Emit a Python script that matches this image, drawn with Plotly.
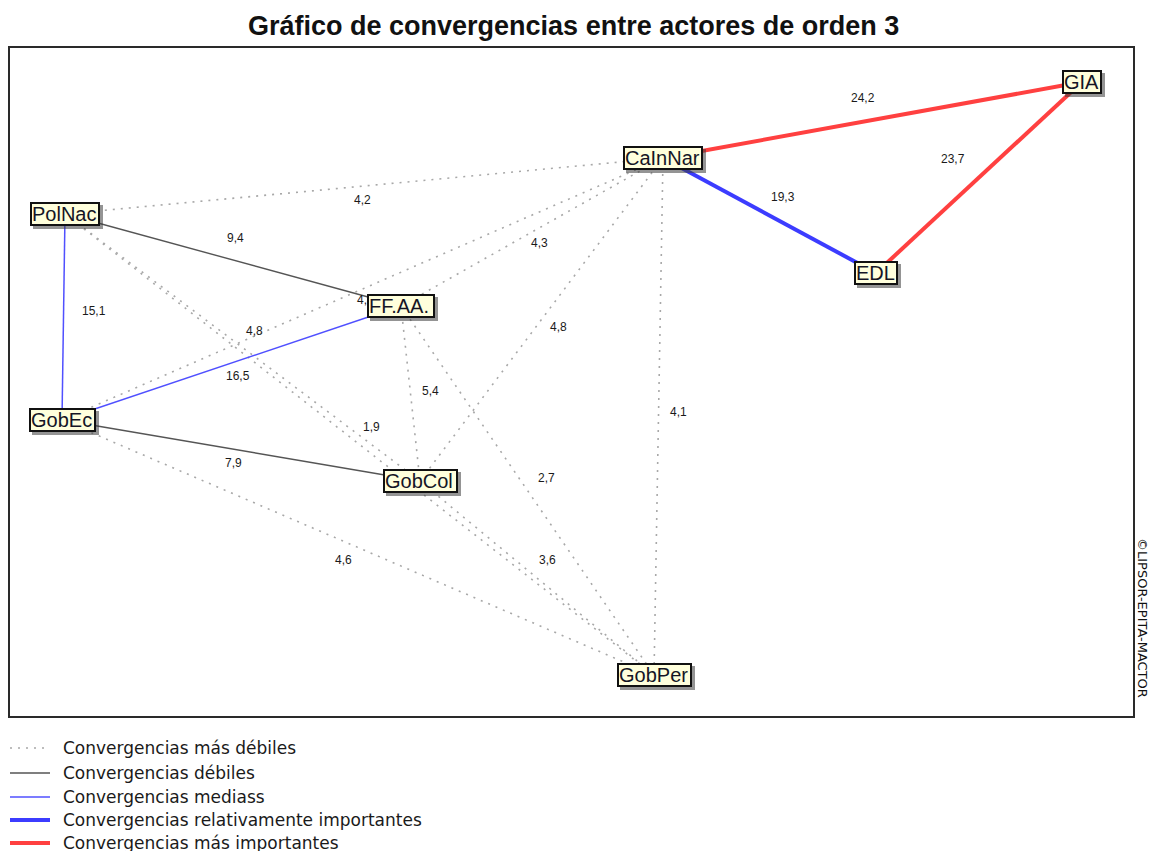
import plotly.graph_objects as go

# ---------------- data ----------------
ACTORS = ["GIA", "CaInNar", "PolNac", "EDL", "FF.AA.", "GobEc", "GobCol", "GobPer"]
ACTOR_X = [1082, 663, 65, 876, 401, 62, 420, 654]
ACTOR_Y = [82, 158, 214, 273, 306, 420, 481, 675]

EDGE_FROM = ["CaInNar", "EDL", "CaInNar", "PolNac", "GobEc", "PolNac", "GobEc",
             "PolNac", "GobEc", "PolNac", "PolNac", "GobEc", "FF.AA.", "FF.AA.",
             "FF.AA.", "GobCol", "GobCol", "CaInNar"]
EDGE_TO = ["GIA", "GIA", "EDL", "GobEc", "FF.AA.", "FF.AA.", "GobCol",
           "CaInNar", "CaInNar", "GobCol", "GobPer", "GobPer", "CaInNar", "GobCol",
           "GobPer", "CaInNar", "GobPer", "GobPer"]
EDGE_VALUE = [24.2, 23.7, 19.3, 15.1, 16.5, 9.4, 7.9,
              4.2, 4.4, 4.8, 1.9, 4.6, 4.3, 5.4,
              2.7, 4.8, 3.6, 4.1]

CLASS_NAMES = ["Convergencias más débiles", "Convergencias débiles", "Convergencias mediass",
               "Convergencias relativamente importantes", "Convergencias más importantes"]
CLASS_LIMITS = [7, 10, 17, 20]  # upper bounds of first four classes

TITLE = "Gráfico de convergencias entre actores de orden 3"
COPYRIGHT = "©LIPSOR-EPITA-MACTOR"

# ---------------- styles ----------------
CLASS_STYLE = [
    dict(color="#a8a8a8", width=1.6, dash="2px,6px"),
    dict(color="#555555", width=1.4, dash="solid"),
    dict(color="#5050ff", width=1.5, dash="solid"),
    dict(color="#3c3cff", width=4, dash="solid"),
    dict(color="#ff4040", width=4, dash="solid"),
]
BOX_W = {"GIA": 36, "CaInNar": 76, "PolNac": 66, "EDL": 40, "FF.AA.": 64,
         "GobEc": 63, "GobCol": 71, "GobPer": 71}
LABEL_SHIFT = [(-10, 22), (-26, 19), (13, 19), (30, 6), (6, -13), (2, 22), (-8, -12),
               (-2, -14), (3, -11), (12, 17), (12, 18), (-15, -12), (7, -11), (20, 3),
               (19, 13), (17, -7), (10, 18), (20, 5)]

X0, X1, Y0, Y1 = 10, 1133, 48, 716
W, H = 1150, 851

pos = {a: (x, y) for a, x, y in zip(ACTORS, ACTOR_X, ACTOR_Y)}


def klass(v):
    for i, lim in enumerate(CLASS_LIMITS):
        if v < lim:
            return i
    return len(CLASS_LIMITS)


fig = go.Figure()

for c in range(len(CLASS_NAMES)):
    xs, ys = [], []
    for f, t, v in zip(EDGE_FROM, EDGE_TO, EDGE_VALUE):
        if klass(v) == c:
            xs += [pos[f][0], pos[t][0], None]
            ys += [pos[f][1], pos[t][1], None]
    st = CLASS_STYLE[c]
    fig.add_trace(go.Scatter(x=xs, y=ys, mode="lines", name=CLASS_NAMES[c],
                             line=dict(color=st["color"], width=st["width"], dash=st["dash"]),
                             hoverinfo="skip", showlegend=False))

annotations = []
# value labels
for (f, t, v), (dx, dy) in zip(zip(EDGE_FROM, EDGE_TO, EDGE_VALUE), LABEL_SHIFT):
    mx = (pos[f][0] + pos[t][0]) / 2
    my = (pos[f][1] + pos[t][1]) / 2
    annotations.append(dict(x=mx, y=my, xref="x", yref="y", text=f"{v:.1f}".replace(".", ","),
                            showarrow=False, xshift=dx, yshift=dy,
                            font=dict(family="Liberation Sans, Arial", size=12, color="#1a1a1a")))
# actor boxes (shadow + box)
for a in ACTORS:
    x, y = pos[a]
    annotations.append(dict(x=x, y=y, xref="x", yref="y", text="", showarrow=False,
                            xshift=3, yshift=-3, width=BOX_W[a] + 4, height=24,
                            bgcolor="rgba(60,60,60,0.55)", borderpad=0, borderwidth=0))
    annotations.append(dict(x=x, y=y, xref="x", yref="y", text=a, showarrow=False,
                            width=BOX_W[a], height=20, align="left", valign="middle",
                            bgcolor="#ffffdc", bordercolor="#111111", borderwidth=2, borderpad=0,
                            font=dict(family="Liberation Sans, Arial", size=20, color="#151525")))


def px2paper(px, py):
    return (px - X0) / (X1 - X0), (Y1 - py) / (Y1 - Y0)


# legend (manual)
shapes = []
LEG_Y = [748, 773, 797, 820, 843]
for c, ly in enumerate(LEG_Y):
    st = CLASS_STYLE[c]
    xa, ya = px2paper(10, ly)
    xb, _ = px2paper(50, ly)
    shapes.append(dict(type="line", xref="paper", yref="paper", x0=xa, x1=xb, y0=ya, y1=ya,
                       line=dict(color=st["color"], width=st["width"], dash=st["dash"])))
    tx, _ = px2paper(61, ly)
    annotations.append(dict(x=tx, y=ya, xref="paper", yref="paper", text=CLASS_NAMES[c],
                            showarrow=False, xanchor="left", yanchor="middle",
                            font=dict(family="DejaVu Sans", size=17, color="#1a1a1a")))

# copyright vertical text
cx, cy = px2paper(1143, 618)
annotations.append(dict(x=cx, y=cy, xref="paper", yref="paper", text=COPYRIGHT, textangle=90,
                        showarrow=False, xanchor="center", yanchor="middle",
                        font=dict(family="DejaVu Sans", size=13, color="#111111")))

# title
tx, ty = px2paper(573, 26)
annotations.append(dict(x=tx, y=ty, xref="paper", yref="paper", text="<b>" + TITLE + "</b>",
                        showarrow=False, xanchor="center", yanchor="middle",
                        font=dict(family="Liberation Sans", size=27, color="#111111")))

fig.update_layout(
    width=W, height=H,
    margin=dict(l=X0, r=W - X1, t=Y0, b=H - Y1, pad=0),
    paper_bgcolor="white", plot_bgcolor="white",
    showlegend=False,
    annotations=annotations,
    shapes=shapes,
    xaxis=dict(range=[X0, X1], visible=True, showgrid=False, zeroline=False, showticklabels=False,
               ticks="", showline=True, mirror=True, linecolor="#2a2a2a", linewidth=2, fixedrange=True),
    yaxis=dict(range=[Y1, Y0], showgrid=False, zeroline=False, showticklabels=False,
               ticks="", showline=True, mirror=True, linecolor="#2a2a2a", linewidth=2, fixedrange=True),
)

fig.write_html("out.html", config={"displayModeBar": False},
               post_script="document.body.style.margin='0px';document.body.style.overflow='hidden';")
